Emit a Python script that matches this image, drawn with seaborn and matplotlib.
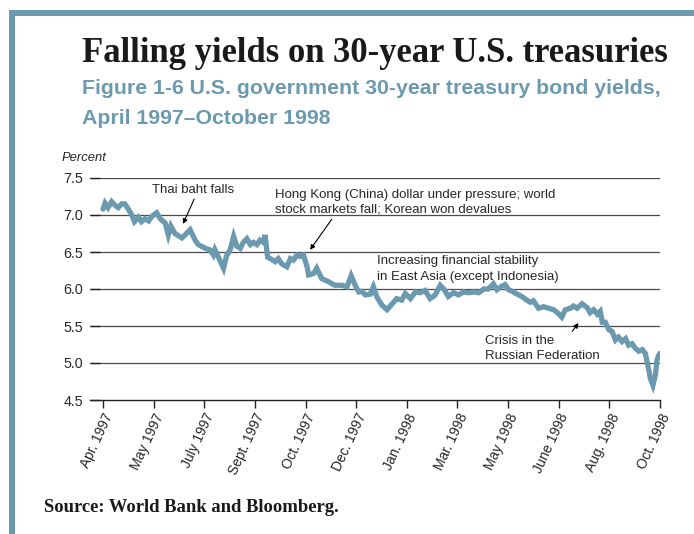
import matplotlib
matplotlib.use("Agg")
import matplotlib.pyplot as plt
from matplotlib.patches import Rectangle
import seaborn as sns
import pandas as pd

# ---------------- data ----------------
tick_labels = ["Apr. 1997", "May 1997", "July 1997", "Sept. 1997", "Oct. 1997",
               "Dec. 1997", "Jan. 1998", "Mar. 1998", "May 1998", "June 1998",
               "Aug. 1998", "Oct. 1998"]

# time position measured in label-interval units (0 = Apr. 1997, 11 = Oct. 1998)
time_pos = [0.00, 0.04, 0.10, 0.17, 0.24, 0.30, 0.37, 0.43, 0.50, 0.57,
            0.62, 0.70, 0.76, 0.83, 0.90, 0.96, 1.06, 1.13, 1.23, 1.29,
            1.34, 1.42, 1.56, 1.62, 1.72, 1.82, 1.88, 2.02, 2.11, 2.18,
            2.21, 2.28, 2.38, 2.44, 2.51, 2.58, 2.64, 2.71, 2.77, 2.84,
            2.91, 2.97, 3.04, 3.10, 3.17, 3.20, 3.25, 3.33, 3.40, 3.46,
            3.53, 3.63, 3.70, 3.76, 3.83, 3.89, 3.96, 4.03, 4.06, 4.16,
            4.22, 4.32, 4.45, 4.58, 4.72, 4.82, 4.90, 4.98, 5.05, 5.11,
            5.18, 5.28, 5.34, 5.41, 5.51, 5.61, 5.71, 5.80, 5.90, 5.97,
            6.07, 6.17, 6.26, 6.36, 6.46, 6.56, 6.66, 6.73, 6.82, 6.92,
            7.02, 7.12, 7.22, 7.32, 7.42, 7.52, 7.61, 7.71, 7.78, 7.88,
            7.94, 8.01, 8.08, 8.18, 8.27, 8.37, 8.44, 8.50, 8.60, 8.70,
            8.80, 8.90, 8.99, 9.06, 9.13, 9.23, 9.29, 9.36, 9.46, 9.56,
            9.62, 9.69, 9.76, 9.82, 9.86, 9.92, 9.99, 10.05, 10.12, 10.18,
            10.25, 10.32, 10.38, 10.45, 10.51, 10.58, 10.65, 10.71, 10.76, 10.81,
            10.86, 10.91, 10.94, 10.98, 11.00]

yields = [7.08, 7.16, 7.10, 7.18, 7.13, 7.10, 7.15, 7.15, 7.08, 7.00,
          6.91, 6.97, 6.91, 6.95, 6.92, 6.98, 7.03, 6.95, 6.89, 6.73,
          6.85, 6.75, 6.69, 6.73, 6.80, 6.66, 6.60, 6.55, 6.53, 6.46,
          6.53, 6.43, 6.28, 6.45, 6.53, 6.71, 6.58, 6.55, 6.63, 6.68,
          6.60, 6.63, 6.60, 6.66, 6.63, 6.73, 6.43, 6.40, 6.37, 6.41,
          6.34, 6.30, 6.41, 6.39, 6.46, 6.44, 6.46, 6.30, 6.19, 6.21,
          6.28, 6.14, 6.10, 6.05, 6.05, 6.03, 6.18, 6.05, 5.96, 5.97,
          5.92, 5.93, 6.03, 5.89, 5.78, 5.72, 5.80, 5.87, 5.85, 5.94,
          5.87, 5.96, 5.95, 5.98, 5.87, 5.92, 6.05, 6.00, 5.90, 5.95,
          5.92, 5.96, 5.95, 5.96, 5.95, 6.00, 6.00, 6.07, 5.99, 6.04,
          6.06, 5.99, 5.97, 5.93, 5.90, 5.85, 5.82, 5.84, 5.74, 5.76,
          5.74, 5.72, 5.67, 5.62, 5.72, 5.74, 5.77, 5.74, 5.80, 5.75,
          5.68, 5.72, 5.66, 5.70, 5.55, 5.55, 5.45, 5.43, 5.31, 5.35,
          5.29, 5.33, 5.24, 5.26, 5.20, 5.16, 5.18, 5.13, 4.97, 4.79,
          4.70, 4.84, 5.04, 5.11, 5.13]

y_ticks = [4.5, 5.0, 5.5, 6.0, 6.5, 7.0, 7.5]

title = "Falling yields on 30-year U.S. treasuries"
subtitle1 = "Figure 1-6 U.S. government 30-year treasury bond yields,"
subtitle2 = "April 1997\u2013October 1998"
source = "Source: World Bank and Bloomberg."

ann_thai = "Thai baht falls"
ann_hk = "Hong Kong (China) dollar under pressure; world\nstock markets fall; Korean won devalues"
ann_asia = "Increasing financial stability\nin East Asia (except Indonesia)"
ann_russia = "Crisis in the\nRussian Federation"

# ---------------- style ----------------
sns.set_theme(style="white")
plt.rcParams["font.family"] = ["Liberation Sans", "DejaVu Sans"]

BLUE = "#6b9ab0"
GRID = "#4a4a4a"
W, H = 694, 534

fig = plt.figure(figsize=(W / 100, H / 100), dpi=100)
fig.patch.set_facecolor("white")

def fx(px):
    return px / W

def fy(py):
    return 1 - py / H

# frame
fig.add_artist(Rectangle((fx(9), fy(16)), fx(694) - fx(9), fy(10) - fy(16),
                         transform=fig.transFigure, color=BLUE, lw=0))
fig.add_artist(Rectangle((fx(9), 0), fx(15) - fx(9), fy(10),
                         transform=fig.transFigure, color=BLUE, lw=0))

ax = fig.add_axes([fx(90), fy(400), fx(660) - fx(90), fy(178) - fy(400)])

df = pd.DataFrame({"t": time_pos, "yield": yields})
sns.lineplot(data=df, x="t", y="yield", sort=False, estimator=None,
             color=BLUE, lw=3.8, ax=ax, solid_joinstyle="miter")

ax.set_xlim(-13 / 50.6, 11)
ax.set_ylim(4.5, 7.5)
ax.set_xlabel("")
ax.set_ylabel("")
ax.set_xticks(range(len(tick_labels)))
ax.set_xticklabels(tick_labels, rotation=65, ha="right", rotation_mode="anchor",
                   fontsize=9.9)
ax.set_yticks(y_ticks)
ax.set_yticklabels([f"{v:.1f}" for v in y_ticks], fontsize=10.3)
for v in y_ticks[1:]:
    ax.axhline(v, color=GRID, lw=0.9, zorder=0)

for s in ["top", "right", "left"]:
    ax.spines[s].set_visible(False)
ax.spines["bottom"].set_color("#222222")
ax.spines["bottom"].set_linewidth(1.0)
ax.tick_params(axis="x", direction="out", length=6, width=1, color="#222222",
               pad=2, bottom=True)
ax.tick_params(axis="y", direction="in", length=7, width=1, color="#222222",
               pad=5, left=True)
ax.grid(False)

# annotations
afs = 9.5
LS = 1.35
ax.annotate(ann_thai, xy=(1.58, 6.88), xytext=(0.97, 7.34), fontsize=afs,
            va="center", ha="left",
            arrowprops=dict(arrowstyle="-|>", color="black", lw=0.8,
                            shrinkA=0, shrinkB=0, mutation_scale=7,
                            relpos=(0.53, 0.0)))
ax.annotate(ann_hk, xy=(4.09, 6.53), xytext=(3.40, 7.17), fontsize=afs,
            va="center", ha="left", linespacing=LS,
            arrowprops=dict(arrowstyle="-|>", color="black", lw=0.8,
                            shrinkA=0, shrinkB=0, mutation_scale=7,
                            relpos=(0.21, 0.0)))
ax.text(5.41, 6.27, ann_asia, fontsize=afs, va="center", ha="left",
        linespacing=LS)
ax.annotate(ann_russia, xy=(9.39, 5.54), xytext=(7.55, 5.20), fontsize=afs,
            va="center", ha="left", linespacing=LS,
            arrowprops=dict(arrowstyle="-|>", color="black", lw=0.8,
                            shrinkA=0, shrinkB=0, mutation_scale=7,
                            relpos=(0.71, 0.85)))

ax.text(fx(62), fy(158), "Percent", transform=fig.transFigure, fontsize=9.4,
        style="italic", va="center", ha="left")

# titles fitted to measured widths
renderer = fig.canvas.get_renderer()

def fitted_text(x, y, s, target_w, fs0, **kw):
    t = fig.text(fx(x), fy(y), s, fontsize=fs0, **kw)
    w = t.get_window_extent(renderer=renderer).width
    t.set_fontsize(fs0 * target_w / w)
    return t

fitted_text(82, 54, title, 586, 22, family=["Liberation Serif", "DejaVu Serif"],
            weight="bold", color="#1a1a1a", va="center", ha="left")
t1 = fitted_text(82, 89, subtitle1, 580, 14, weight="bold", color=BLUE,
                 va="center", ha="left")
fig.text(fx(82), fy(119), subtitle2, fontsize=t1.get_fontsize(), weight="bold",
         color=BLUE, va="center", ha="left")
fitted_text(44, 507, source, 293, 12, family=["Liberation Serif", "DejaVu Serif"],
            weight="bold", color="#1a1a1a", va="center", ha="left")

fig.savefig("out.png", dpi=100)
